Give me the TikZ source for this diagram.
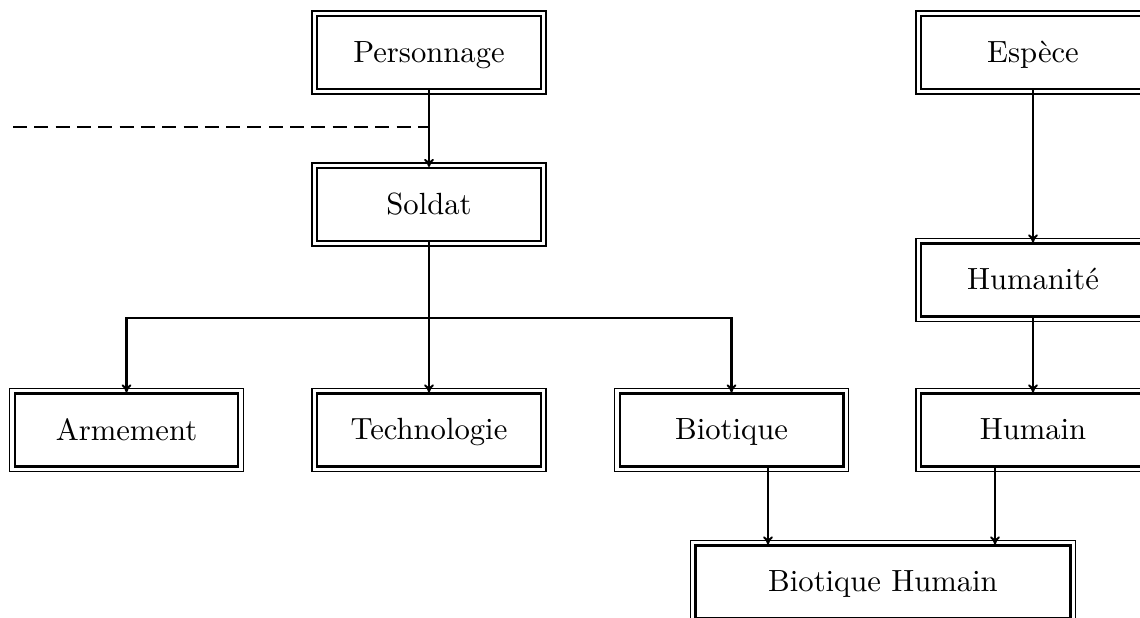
\documentclass[tikz,border=0pt]{standalone}
\usetikzlibrary{arrows.meta}
\begin{document}
\begin{tikzpicture}[x=0.3425pt,y=-0.3425pt,
  inbox/.style={draw,line width=0.8pt,minimum width=76.6pt,minimum height=24.9pt,inner sep=0pt,text depth=0.6pt,font=\fontsize{10.5}{12.5}\selectfont},
  outbox/.style={draw,line width=0.5pt},
  conn/.style={line width=0.7pt,-{To[length=2.8pt,width=3.4pt]}},
  plain/.style={line width=0.7pt},
  dashline/.style={line width=0.7pt,dash pattern=on 4.8pt off 2.5pt}]
\useasboundingbox (0,0) rectangle (1140,618);
\clip (0,0) rectangle (1140,618);
\node[inbox] (pers) at (429,52.5) {Personnage};
\node[inbox] (sold) at (429,204.5) {Soldat};
\node[inbox] (esp) at (1033,52.5) {Espèce};
\node[inbox] (hum) at (1033,280) {Humanité};
\node[inbox] (arm) at (126.5,430) {Armement};
\node[inbox] (tech) at (429,430) {Technologie};
\node[inbox] (bio) at (731.5,430) {Biotique};
\node[inbox] (hn) at (1033,430) {Humain};
\node[inbox,minimum width=128.4pt] (bh) at (883,582) {Biotique Humain};
\foreach \n in {pers,sold,esp,hum,arm,tech,bio,hn,bh}{
  \draw[outbox] ([shift={(-1.4pt,1.4pt)}]\n.north west) rectangle ([shift={(1.4pt,-1.4pt)}]\n.south east);
}
\coordinate (j) at (429,127);
\coordinate (d) at (13,127);
\draw[dashline] (d) -- (j);
\draw[conn] (pers.south) -- (sold.north);
\coordinate (s1) at (429,318);
\draw[plain] (sold.south) -- (s1);
\draw[conn] (s1) -| (arm.north);
\draw[conn] (s1) -| (bio.north);
\draw[conn] (s1) -- (tech.north);
\draw[conn] (esp.south) -- (hum.north);
\draw[conn] (hum.south) -- (hn.north);
\draw[conn] (bio.south -| 768,0) -- (bh.north -| 768,0);
\draw[conn] (hn.south -| 995,0) -- (bh.north -| 995,0);
\end{tikzpicture}
\end{document}
